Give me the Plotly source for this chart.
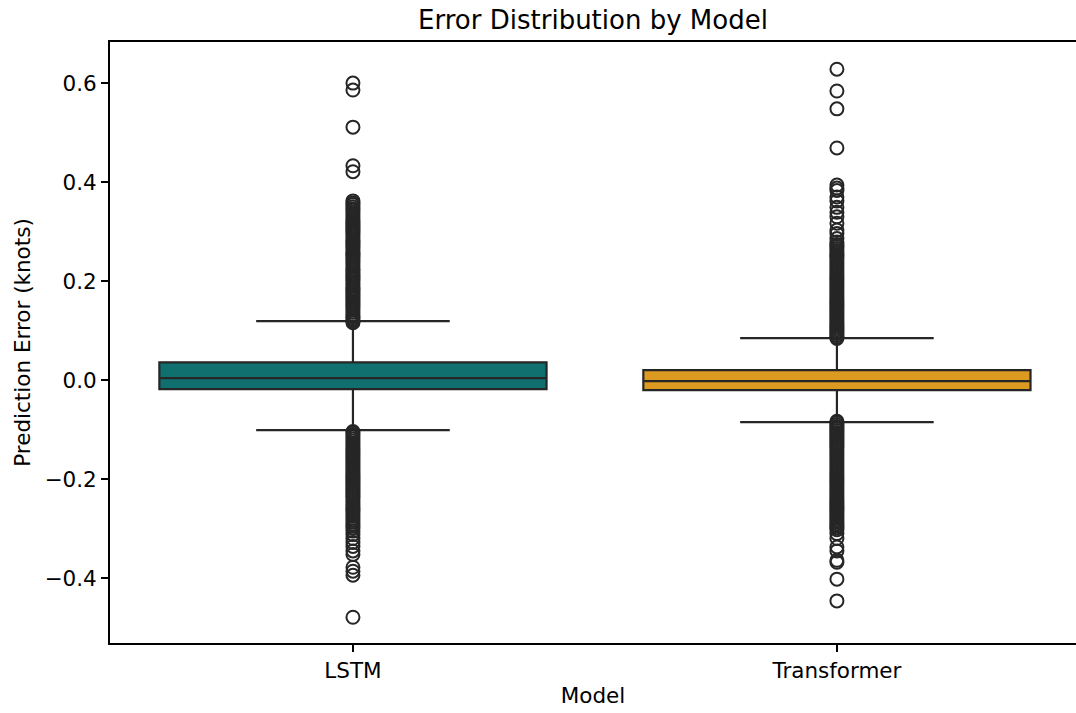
import plotly.graph_objects as go

# ---------------- data ----------------
models = ["LSTM", "Transformer"]
q1 = [-0.018, -0.020]
median = [0.004, -0.002]
q3 = [0.036, 0.020]
lower_whisker = [-0.101, -0.085]
upper_whisker = [0.119, 0.085]

lstm_outliers = [
    0.600, 0.586, 0.511, 0.433, 0.421,
    0.362, 0.358, 0.355, 0.350, 0.346, 0.343, 0.339, 0.335, 0.331, 0.327,
    0.323, 0.320, 0.316, 0.312, 0.308, 0.304, 0.300, 0.297, 0.293, 0.289,
    0.285, 0.281, 0.278, 0.274, 0.270, 0.266, 0.262, 0.258, 0.255, 0.251,
    0.247, 0.243, 0.240, 0.236, 0.232, 0.228, 0.224, 0.221, 0.217, 0.213,
    0.209, 0.205, 0.202, 0.198, 0.194, 0.190, 0.186, 0.183, 0.179, 0.175,
    0.171, 0.167, 0.164, 0.160, 0.156, 0.152, 0.148, 0.145, 0.141, 0.137,
    0.133, 0.129, 0.126, 0.122, 0.119, 0.116,
    -0.104, -0.107, -0.111, -0.115, -0.119, -0.123, -0.127, -0.131, -0.135,
    -0.139, -0.143, -0.147, -0.151, -0.155, -0.159, -0.163, -0.167, -0.171,
    -0.175, -0.179, -0.183, -0.187, -0.191, -0.195, -0.199, -0.203, -0.207,
    -0.211, -0.215, -0.219, -0.223, -0.227, -0.231, -0.235, -0.239, -0.243,
    -0.247, -0.251, -0.255, -0.259, -0.263, -0.267, -0.271, -0.275, -0.279,
    -0.283, -0.287, -0.291, -0.295, -0.299,
    -0.305, -0.312, -0.320, -0.328, -0.336, -0.345, -0.352,
    -0.378, -0.386, -0.394, -0.479,
]

transformer_outliers = [
    0.628, 0.584, 0.548, 0.469,
    0.394, 0.388, 0.383, 0.370, 0.362, 0.349, 0.339, 0.330, 0.317, 0.303,
    0.296, 0.286, 0.279, 0.274,
    0.270, 0.266, 0.262, 0.258, 0.254, 0.250, 0.246, 0.242, 0.238, 0.234,
    0.230, 0.226, 0.222, 0.218, 0.214, 0.210, 0.206, 0.202, 0.198, 0.194,
    0.190, 0.186, 0.182, 0.178, 0.174, 0.170, 0.166, 0.162, 0.158, 0.154,
    0.150, 0.146, 0.142, 0.138, 0.134, 0.130, 0.126, 0.122, 0.118, 0.114,
    0.110, 0.106, 0.102, 0.098, 0.094, 0.090, 0.087, 0.084,
    -0.083, -0.086, -0.090, -0.094, -0.098, -0.102, -0.106, -0.110, -0.114,
    -0.118, -0.122, -0.126, -0.130, -0.134, -0.138, -0.142, -0.146, -0.150,
    -0.154, -0.158, -0.162, -0.166, -0.170, -0.174, -0.178, -0.182, -0.186,
    -0.190, -0.194, -0.198, -0.202, -0.206, -0.210, -0.214, -0.218, -0.222,
    -0.226, -0.230, -0.234, -0.238, -0.242, -0.246, -0.250, -0.254, -0.258,
    -0.262, -0.266, -0.270, -0.274, -0.278, -0.282, -0.286, -0.290, -0.294,
    -0.298, -0.302,
    -0.310, -0.320, -0.337, -0.345, -0.364, -0.368,
    -0.402, -0.446,
]

outliers = [lstm_outliers, transformer_outliers]
box_colors = ["#107070", "#DC9B20"]
tick_values = [-0.4, -0.2, 0.0, 0.2, 0.4, 0.6]

# ---------------- figure ----------------
LINE = "#262626"
FONT = "DejaVu Sans"
TICK_SIZE = 21.5
LABEL_SIZE = 21.5
TITLE_SIZE = 26

fig = go.Figure()
for i, name in enumerate(models):
    fig.add_trace(go.Box(
        x=[i], q1=[q1[i]], median=[median[i]], q3=[q3[i]],
        lowerfence=[lower_whisker[i]], upperfence=[upper_whisker[i]],
        width=0.8, whiskerwidth=0.5,
        fillcolor=box_colors[i],
        line=dict(color=LINE, width=2.2),
        boxpoints=False, showlegend=False, name=name,
    ))
    fig.add_trace(go.Scatter(
        x=[i] * len(outliers[i]), y=outliers[i], mode="markers",
        marker=dict(symbol="circle-open", size=13, color=LINE,
                    line=dict(width=2, color=LINE)),
        showlegend=False, hoverinfo="y",
    ))

fig.update_layout(
    width=1076, height=713,
    margin=dict(l=110, r=0, t=42, b=70),
    paper_bgcolor="white", plot_bgcolor="white",
    font=dict(family=FONT, size=TICK_SIZE, color="black"),
    title=dict(text="Error Distribution by Model", x=0.5, xanchor="center",
               xref="paper", y=1 - 20 / 713, yanchor="middle",
               yref="container", font=dict(size=TITLE_SIZE, family=FONT)),
)

fig.update_xaxes(
    range=[-0.502, 1.494], tickvals=[0, 1], ticktext=models,
    showline=True, linecolor="black", linewidth=2, mirror=True,
    ticks="outside", ticklen=7, tickwidth=1.5, tickcolor="black",
    showgrid=False, zeroline=False,
    title=dict(text="Model", standoff=6, font=dict(size=LABEL_SIZE)),
    tickfont=dict(size=TICK_SIZE),
)
fig.update_yaxes(
    range=[-0.531, 0.683], tickvals=tick_values, tickformat=".1f",
    showline=True, linecolor="black", linewidth=2, mirror=False,
    ticks="outside", ticklen=7, tickwidth=1.5, tickcolor="black",
    showgrid=False, zeroline=False,
    title=dict(text="Prediction Error (knots)", standoff=8,
               font=dict(size=LABEL_SIZE)),
    tickfont=dict(size=TICK_SIZE),
)

fig.write_html("out.html")
